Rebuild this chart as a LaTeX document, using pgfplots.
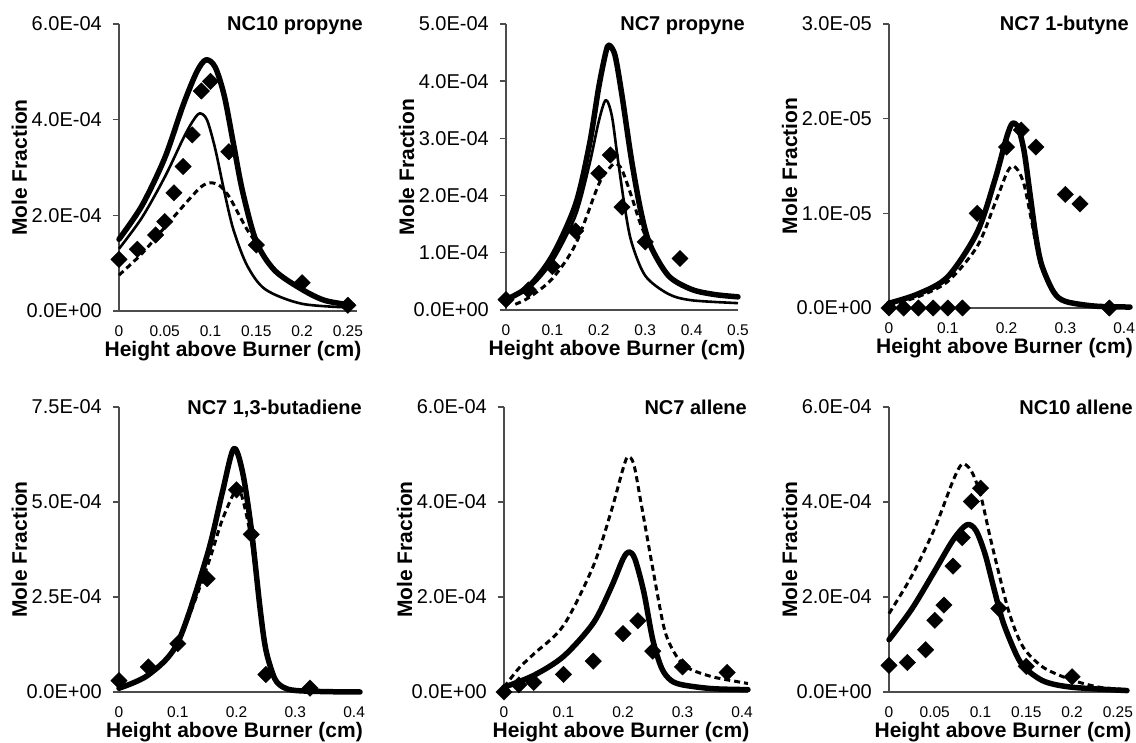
\documentclass[border=0pt]{standalone}
\usepackage{pgfplots}
\pgfplotsset{compat=1.18}
\usepackage{fontspec}
\setmainfont{Liberation Sans}
\tikzset{ttl/.style={anchor=base east, inner sep=0pt, font=\bfseries\fontsize{20}{24}\selectfont}}
\pgfplotsset{
  panel/.style={
    scale only axis,
    axis lines=left,
    axis line style={-, line width=1.4pt, black!70},
    xmin=0, ymin=0,
    clip=false,
    tick align=outside,
    major tick length=6pt,
    ytick style={line width=1.4pt, black!70},
    xtick style={draw=none},
    scaled y ticks=false,
    scaled x ticks=false,
    xticklabel style={font=\fontsize{15.5}{18}\selectfont, inner sep=0pt, anchor=base, yshift=-20pt},
    yticklabel style={font=\fontsize{20}{24}\selectfont, inner sep=0pt, anchor=east, xshift=-11pt},
    xlabel={Height above Burner (cm)},
    ylabel={Mole Fraction},
    xlabel style={font=\bfseries\fontsize{21}{25}\selectfont, at={([xshift=-5pt,yshift=-46pt]axis description cs:0.5,0)}, anchor=base, inner sep=0pt},
    ylabel style={font=\bfseries\fontsize{21}{25}\selectfont, at={([xshift=-92pt]axis description cs:0,0.5)}, anchor=base, inner sep=0pt},
  },
  thickl/.style={black, line width=5.5pt, smooth, no markers, line cap=round, line join=round},
  thinl/.style={black, line width=2.6pt, smooth, no markers, line join=round},
  dashl/.style={black, line width=3pt, dash pattern=on 6pt off 4pt, smooth, no markers},
  expt/.style={only marks, mark=square*, mark size=5.8pt, mark options={rotate=45, fill=black, draw=black}},
}
\begin{document}
\begin{tikzpicture}
\path[use as bounding box] (0,0) rectangle (1136pt,743pt);

% ---------------- Panel 1: NC10 propyne
\begin{axis}[panel, at={(119pt,432pt)}, anchor=south west, width=238pt, height=287pt,
  xmax=0.26, ymax=6,
  xtick={0,0.05,0.1,0.15,0.2,0.25}, xticklabels={0,0.05,0.1,0.15,0.2,0.25},
  ytick={0,2,4,6}, yticklabels={0.0E+00,2.0E-04,4.0E-04,6.0E-04}]
\addplot[dashl] coordinates {(0,0.75) (0.025,1.2) (0.05,1.75) (0.075,2.3) (0.09,2.6) (0.1,2.68) (0.11,2.62) (0.12,2.4) (0.13,2.05) (0.14,1.7) (0.15,1.42) (0.17,0.85) (0.2,0.45) (0.225,0.22) (0.255,0.12)};
\addplot[thinl] coordinates {(0,1.3) (0.025,1.95) (0.05,2.8) (0.07,3.6) (0.08,3.95) (0.088,4.13) (0.096,4.0) (0.105,3.4) (0.115,2.5) (0.125,1.7) (0.14,0.95) (0.16,0.45) (0.2,0.15) (0.255,0.07)};
\addplot[thickl] coordinates {(0,1.5) (0.025,2.2) (0.05,3.2) (0.07,4.3) (0.085,5.0) (0.095,5.25) (0.105,5.1) (0.115,4.5) (0.125,3.5) (0.135,2.5) (0.15,1.45) (0.17,0.85) (0.2,0.45) (0.225,0.22) (0.255,0.12)};
\addplot[expt] coordinates {(0,1.08) (0.02,1.29) (0.04,1.59) (0.05,1.87) (0.06,2.47) (0.07,3.02) (0.08,3.68) (0.09,4.6) (0.1,4.8) (0.12,3.33) (0.15,1.38) (0.2,0.59) (0.25,0.12)};
\node[ttl] at ([xshift=6pt,yshift=-7pt]rel axis cs:1,1) {NC10 propyne};
\end{axis}

% ---------------- Panel 2: NC7 propyne
\begin{axis}[panel, at={(506pt,433pt)}, anchor=south west, width=232pt, height=286pt,
  xmax=0.5, ymax=5,
  xtick={0,0.1,0.2,0.3,0.4,0.5}, xticklabels={0,0.1,0.2,0.3,0.4,0.5},
  ytick={0,1,2,3,4,5}, yticklabels={0.0E+00,1.0E-04,2.0E-04,3.0E-04,4.0E-04,5.0E-04}]
\addplot[dashl] coordinates {(0.02,0.1) (0.05,0.22) (0.1,0.55) (0.15,1.15) (0.2,2.2) (0.225,2.5) (0.237,2.56) (0.25,2.45) (0.27,2.0) (0.29,1.5) (0.31,1.15) (0.35,0.6) (0.4,0.36) (0.45,0.27) (0.5,0.23)};
\addplot[thinl] coordinates {(0,0.17) (0.05,0.38) (0.1,0.85) (0.15,1.65) (0.18,2.55) (0.2,3.3) (0.215,3.67) (0.228,3.4) (0.24,2.7) (0.255,1.85) (0.27,1.2) (0.3,0.6) (0.35,0.28) (0.4,0.17) (0.5,0.12)};
\addplot[thickl] coordinates {(0,0.18) (0.05,0.42) (0.1,0.95) (0.15,1.85) (0.18,2.9) (0.2,3.9) (0.215,4.5) (0.222,4.63) (0.235,4.45) (0.25,3.75) (0.27,2.65) (0.29,1.75) (0.31,1.15) (0.35,0.6) (0.4,0.36) (0.45,0.27) (0.5,0.23)};
\addplot[expt] coordinates {(0,0.18) (0.048,0.35) (0.1,0.76) (0.15,1.38) (0.2,2.39) (0.225,2.71) (0.25,1.8) (0.3,1.19) (0.375,0.9)};
\node[ttl] at ([xshift=7pt,yshift=-7pt]rel axis cs:1,1) {NC7 propyne};
\end{axis}

% ---------------- Panel 3: NC7 1-butyne
\begin{axis}[panel, at={(889pt,435pt)}, anchor=south west, width=241pt, height=284pt,
  xmax=0.41, ymax=3,
  xtick={0,0.1,0.2,0.3,0.4}, xticklabels={0,0.1,0.2,0.3,0.4},
  ytick={0,1,2,3}, yticklabels={0.0E+00,1.0E-05,2.0E-05,3.0E-05}]
\addplot[dashl] coordinates {(0,0.03) (0.05,0.12) (0.1,0.28) (0.15,0.65) (0.18,1.1) (0.2,1.42) (0.21,1.5) (0.22,1.45) (0.23,1.3) (0.24,1.0) (0.25,0.68) (0.26,0.42) (0.28,0.16) (0.3,0.07) (0.35,0.02) (0.41,0.01)};
\addplot[thickl] coordinates {(0,0.05) (0.05,0.15) (0.1,0.33) (0.15,0.8) (0.18,1.35) (0.2,1.8) (0.21,1.95) (0.22,1.9) (0.23,1.65) (0.24,1.2) (0.25,0.75) (0.26,0.45) (0.28,0.17) (0.3,0.07) (0.35,0.02) (0.41,0.01)};
\addplot[expt] coordinates {(0,0) (0.025,0) (0.05,0) (0.075,0) (0.1,0) (0.125,0) (0.15,1.0) (0.2,1.7) (0.225,1.88) (0.25,1.7) (0.3,1.2) (0.325,1.1) (0.375,0)};
\node[ttl] at ([xshift=-1pt,yshift=-7pt]rel axis cs:1,1) {NC7 1-butyne};
\end{axis}

% ---------------- Panel 4: NC7 1,3-butadiene
\begin{axis}[panel, at={(119pt,51pt)}, anchor=south west, width=241pt, height=285pt,
  xmax=0.41, ymax=7.5,
  xtick={0,0.1,0.2,0.3,0.4}, xticklabels={0,0.1,0.2,0.3,0.4},
  ytick={0,2.5,5,7.5}, yticklabels={0.0E+00,2.5E-04,5.0E-04,7.5E-04}]
\addplot[dashl] coordinates {(0,0.1) (0.05,0.45) (0.1,1.3) (0.15,3.3) (0.175,4.5) (0.2,5.35) (0.21,5.1) (0.225,4.0) (0.24,2.2) (0.25,1.2) (0.265,0.4) (0.28,0.13) (0.3,0.04) (0.41,0)};
\addplot[thickl] coordinates {(0,0.1) (0.05,0.45) (0.1,1.3) (0.15,3.6) (0.175,5.2) (0.195,6.4) (0.21,5.8) (0.225,4.3) (0.24,2.2) (0.25,1.1) (0.265,0.35) (0.28,0.12) (0.3,0.04) (0.35,0.01) (0.41,0)};
\addplot[expt] coordinates {(0,0.3) (0.05,0.66) (0.1,1.27) (0.15,2.98) (0.2,5.32) (0.225,4.15) (0.25,0.46) (0.325,0.1)};
\node[ttl] at ([xshift=2pt,yshift=-8pt]rel axis cs:1,1) {NC7 1,3-butadiene};
\end{axis}

% ---------------- Panel 5: NC7 allene
\begin{axis}[panel, at={(504pt,51pt)}, anchor=south west, width=244pt, height=285pt,
  xmax=0.41, ymax=6,
  xtick={0,0.1,0.2,0.3,0.4}, xticklabels={0,0.1,0.2,0.3,0.4},
  ytick={0,2,4,6}, yticklabels={0.0E+00,2.0E-04,4.0E-04,6.0E-04}]
\addplot[dashl] coordinates {(0,0.1) (0.025,0.5) (0.05,0.8) (0.1,1.4) (0.15,2.65) (0.18,3.8) (0.2,4.7) (0.208,4.95) (0.218,4.8) (0.23,4.0) (0.25,2.6) (0.27,1.3) (0.29,0.75) (0.31,0.5) (0.35,0.32) (0.4,0.2) (0.41,0.18)};
\addplot[thickl] coordinates {(0,0.1) (0.05,0.35) (0.1,0.75) (0.15,1.45) (0.18,2.2) (0.2,2.8) (0.21,2.95) (0.22,2.8) (0.235,2.1) (0.25,1.1) (0.265,0.5) (0.28,0.25) (0.3,0.15) (0.35,0.07) (0.41,0.05)};
\addplot[expt] coordinates {(0,0) (0.025,0.15) (0.05,0.2) (0.1,0.37) (0.15,0.65) (0.2,1.23) (0.225,1.5) (0.25,0.86) (0.3,0.53) (0.375,0.41)};
\node[ttl] at ([xshift=-1pt,yshift=-8pt]rel axis cs:1,1) {NC7 allene};
\end{axis}

% ---------------- Panel 6: NC10 allene
\begin{axis}[panel, at={(889pt,51pt)}, anchor=south west, width=238pt, height=285pt,
  xmax=0.26, ymax=6,
  xtick={0,0.05,0.1,0.15,0.2,0.25}, xticklabels={0,0.05,0.1,0.15,0.2,0.25},
  ytick={0,2,4,6}, yticklabels={0.0E+00,2.0E-04,4.0E-04,6.0E-04}]
\addplot[dashl] coordinates {(0,1.65) (0.025,2.45) (0.05,3.45) (0.07,4.45) (0.08,4.8) (0.09,4.65) (0.1,4.15) (0.11,3.3) (0.12,2.5) (0.13,1.75) (0.14,1.2) (0.15,0.85) (0.17,0.5) (0.2,0.25) (0.23,0.1) (0.26,0.05)};
\addplot[thickl] coordinates {(0,1.1) (0.025,1.75) (0.05,2.55) (0.07,3.2) (0.085,3.52) (0.095,3.4) (0.105,2.9) (0.115,2.15) (0.125,1.45) (0.14,0.75) (0.15,0.48) (0.17,0.22) (0.2,0.1) (0.26,0.03)};
\addplot[expt] coordinates {(0,0.56) (0.02,0.62) (0.04,0.89) (0.05,1.51) (0.06,1.83) (0.07,2.65) (0.08,3.25) (0.09,4.01) (0.1,4.29) (0.12,1.76) (0.15,0.54) (0.2,0.32)};
\node[ttl] at ([xshift=6pt,yshift=-8pt]rel axis cs:1,1) {NC10 allene};
\end{axis}
\end{tikzpicture}
\end{document}
